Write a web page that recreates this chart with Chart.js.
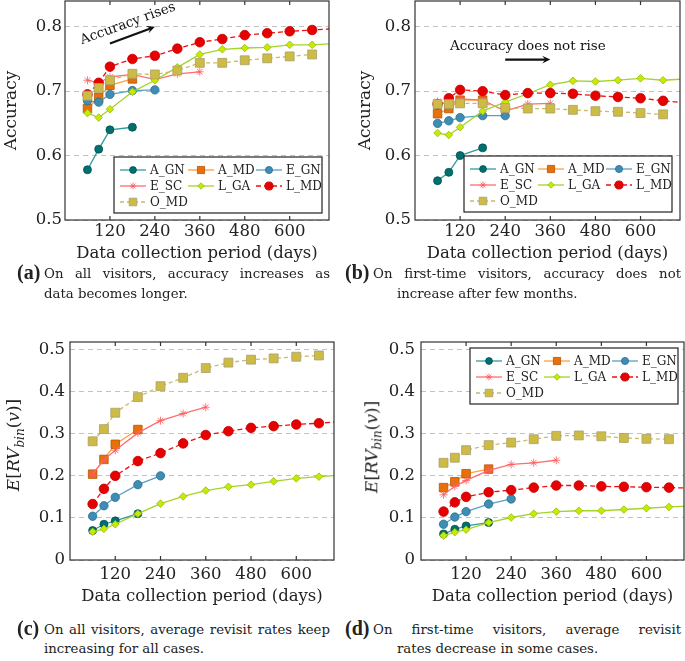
<!DOCTYPE html>
<html>
<head>
<meta charset="utf-8">
<script src="https://cdn.jsdelivr.net/npm/chart.js@4.4.1/dist/chart.umd.min.js"></script>
<style>
  body { margin: 0; width: 685px; height: 661px; background: #fff; position: relative; overflow: hidden; font-family: 'DejaVu Serif', serif; color: #222; }
  .box { position: absolute; }
  .box canvas { display: block; }
  .lab { position: absolute; font-family: 'Liberation Serif', serif; font-weight: bold; font-size: 20px; }
  .l1 { position: absolute; font-size: 13.3px; text-align: justify; text-align-last: justify; white-space: nowrap; }
  .l2 { position: absolute; font-size: 13.3px; white-space: nowrap; }
  .ytitle { position: absolute; font-size: 17px; white-space: nowrap; transform: translate(-50%, -50%) rotate(-90deg); }
  .ytitle sub { font-size: 12px; }
</style>
</head>
<body>
<div class="box" style="left:0px;top:0px"><canvas id="ca" width="340" height="265"></canvas></div>
<div class="box" style="left:350px;top:0px"><canvas id="cb" width="340" height="265"></canvas></div>
<div class="box" style="left:0px;top:335px"><canvas id="cc" width="340" height="275"></canvas></div>
<div class="box" style="left:350px;top:335px"><canvas id="cd" width="335" height="275"></canvas></div>

<div class="ytitle" style="left:15px;top:445px"><i>E</i>[<i>RV</i><sub><i>bin</i></sub>(<i>v</i>)]</div>
<div class="ytitle" style="left:373px;top:447px"><i>E</i>[<i>RV</i><sub><i>bin</i></sub>(<i>v</i>)]</div>

<div class="lab" style="left:17px;top:261px">(a)</div>
<div class="l1" style="left:44px;top:266px;width:286px">On all visitors, accuracy increases as</div>
<div class="l2" style="left:44px;top:286px">data becomes longer.</div>

<div class="lab" style="left:345px;top:261px">(b)</div>
<div class="l1" style="left:373px;top:266px;width:308px">On first-time visitors, accuracy does not</div>
<div class="l2" style="left:397px;top:286px">increase after few months.</div>

<div class="lab" style="left:17px;top:617px">(c)</div>
<div class="l1" style="left:44px;top:622px;width:286px">On all visitors, average revisit rates keep</div>
<div class="l2" style="left:44px;top:641px">increasing for all cases.</div>

<div class="lab" style="left:345px;top:617px">(d)</div>
<div class="l1" style="left:373px;top:622px;width:308px">On first-time visitors, average revisit</div>
<div class="l2" style="left:397px;top:641px">rates decrease in some cases.</div>

<script>
const days = [60, 90, 120, 180, 240, 300, 360, 420, 480, 540, 600, 660, 720];
const dayTicks = [120, 240, 360, 480, 600];
const accTicks = [0.5, 0.6, 0.7, 0.8];
const rvTicks = [0, 0.1, 0.2, 0.3, 0.4, 0.5];
const seriesNames = ['A_GN', 'A_MD', 'E_GN', 'E_SC', 'L_GA', 'L_MD', 'O_MD'];

// (a) accuracy, all visitors
const accAll_A_GN = [0.578, 0.610, 0.640, 0.644];
const accAll_A_MD = [0.673, 0.690, 0.709, 0.719];
const accAll_E_GN = [0.685, 0.683, 0.695, 0.701, 0.702];
const accAll_E_SC = [0.717, 0.713, 0.722, 0.726, 0.718, 0.727, 0.730];
const accAll_L_GA = [0.666, 0.659, 0.672, 0.699, 0.717, 0.737, 0.757, 0.765, 0.767, 0.768, 0.772, 0.772, 0.774];
const accAll_L_MD = [0.695, 0.713, 0.738, 0.750, 0.755, 0.766, 0.776, 0.781, 0.787, 0.790, 0.793, 0.795, 0.797];
const accAll_O_MD = [0.693, 0.705, 0.717, 0.727, 0.726, 0.732, 0.744, 0.744, 0.748, 0.751, 0.754, 0.757];

// (b) accuracy, first-time visitors
const accNew_A_GN = [0.561, 0.574, 0.600, 0.612];
const accNew_A_MD = [0.665, 0.673, 0.686, 0.686];
const accNew_E_GN = [0.650, 0.654, 0.659, 0.662, 0.662];
const accNew_E_SC = [0.684, 0.679, 0.688, 0.686, 0.669, 0.680, 0.681];
const accNew_L_GA = [0.635, 0.632, 0.644, 0.669, 0.683, 0.696, 0.710, 0.716, 0.715, 0.717, 0.720, 0.717, 0.719];
const accNew_L_MD = [0.680, 0.689, 0.702, 0.700, 0.694, 0.697, 0.697, 0.696, 0.693, 0.691, 0.689, 0.685, 0.682];
const accNew_O_MD = [0.680, 0.680, 0.681, 0.681, 0.674, 0.673, 0.673, 0.671, 0.669, 0.668, 0.666, 0.664];

// (c) average revisit rate, all visitors
const rvAll_A_GN = [0.070, 0.085, 0.093, 0.110];
const rvAll_A_MD = [0.204, 0.239, 0.275, 0.310];
const rvAll_E_GN = [0.104, 0.129, 0.149, 0.179, 0.200];
const rvAll_E_SC = [0.204, 0.238, 0.261, 0.302, 0.331, 0.348, 0.363];
const rvAll_L_GA = [0.067, 0.074, 0.085, 0.110, 0.134, 0.151, 0.165, 0.174, 0.179, 0.187, 0.194, 0.198, 0.202];
const rvAll_L_MD = [0.133, 0.169, 0.200, 0.235, 0.254, 0.277, 0.297, 0.306, 0.314, 0.318, 0.322, 0.325, 0.329];
const rvAll_O_MD = [0.282, 0.311, 0.350, 0.387, 0.413, 0.433, 0.456, 0.469, 0.476, 0.479, 0.483, 0.486];

// (d) average revisit rate, first-time visitors
const rvNew_A_GN = [0.062, 0.073, 0.081, 0.089];
const rvNew_A_MD = [0.172, 0.186, 0.205, 0.216];
const rvNew_E_GN = [0.085, 0.102, 0.115, 0.133, 0.145];
const rvNew_E_SC = [0.155, 0.175, 0.189, 0.213, 0.227, 0.231, 0.237];
const rvNew_L_GA = [0.058, 0.066, 0.072, 0.089, 0.101, 0.110, 0.115, 0.117, 0.117, 0.120, 0.123, 0.126, 0.128];
const rvNew_L_MD = [0.115, 0.137, 0.150, 0.161, 0.166, 0.172, 0.177, 0.177, 0.175, 0.174, 0.173, 0.172, 0.171];
const rvNew_O_MD = [0.231, 0.243, 0.261, 0.273, 0.279, 0.287, 0.295, 0.296, 0.294, 0.290, 0.288, 0.287];

const FONT = "'DejaVu Serif', serif"
const INK = '#222'

const styles = {
  A_GN: {line: '#2f9c9c', fill: '#00706f', edge: '#005252', shape: 'circle', r: 4, dash: []},
  A_MD: {line: '#ffa040', fill: '#e8700a', edge: '#b85400', shape: 'rect', r: 6, dash: []},
  E_GN: {line: '#5a9fc0', fill: '#3f8db3', edge: '#2a6f90', shape: 'circle', r: 4.2, dash: []},
  E_SC: {line: '#ff6e6e', fill: '#ff6e6e', edge: '#ff5a5a', shape: 'star', r: 4, dash: []},
  L_GA: {line: '#a4d42a', fill: '#cbe800', edge: '#8fbf10', shape: 'rectRot', r: 3.8, dash: []},
  L_MD: {line: '#ee1111', fill: '#e60000', edge: '#c00000', shape: 'circle', r: 4.8, dash: [5, 3]},
  O_MD: {line: '#c8bb6a', fill: '#cdbb45', edge: '#a89f6a', shape: 'rect', r: 6.3, dash: [4, 3]}
}

function makeSets(values){
    return seriesNames.map((name, i) => {
        const st = styles[name]
        return {
            label: name,
            data: values[i].map((v, k) => ({x: days[k], y: v})),
            borderColor: st.line,
            borderWidth: 1.3,
            borderDash: st.dash,
            pointStyle: st.shape,
            pointRadius: st.r,
            pointBackgroundColor: st.fill,
            pointBorderColor: st.edge,
            pointBorderWidth: 0.8,
            order: seriesNames.length - i
        }
    })
}

// frame round the plot area, with small tick marks on top and bottom
const frame = {
    id: 'frame',
    afterDraw(chart){
        const {ctx, chartArea: a, scales} = chart
        ctx.save()
        ctx.strokeStyle = '#333'
        ctx.lineWidth = 1.2
        ctx.strokeRect(a.left, a.top, a.right - a.left, a.bottom - a.top)
        ctx.beginPath()
        dayTicks.forEach(d => {
            const px = scales.x.getPixelForValue(d)
            ctx.moveTo(px, a.top); ctx.lineTo(px, a.top + 4)
            ctx.moveTo(px, a.bottom); ctx.lineTo(px, a.bottom - 4)
        })
        ctx.stroke()
        ctx.restore()
    }
}

// legend in a box inside the plot, 3 columns
const boxLegend = {
    id: 'boxLegend',
    afterDatasetsDraw(chart, args, opts){
        if (!opts.corner) return
        const {ctx, chartArea: a} = chart
        const w = 208, h = 56
        const x0 = a.right - opts.inset - w
        const y0 = opts.corner === 'br' ? a.bottom - opts.inset - h : a.top + opts.inset
        ctx.save()
        ctx.fillStyle = '#fff'
        ctx.strokeStyle = '#222'
        ctx.lineWidth = 1.2
        ctx.fillRect(x0, y0, w, h)
        ctx.strokeRect(x0, y0, w, h)
        chart.data.datasets.forEach((ds, i) => {
            const col = i % 3, row = Math.floor(i / 3)
            const lx = x0 + 6 + col * 68, ly = y0 + 13 + row * 16
            ctx.beginPath()
            ctx.setLineDash(ds.borderDash)
            ctx.strokeStyle = ds.borderColor
            ctx.lineWidth = ds.borderWidth
            ctx.moveTo(lx, ly); ctx.lineTo(lx + 26, ly)
            ctx.stroke()
            ctx.setLineDash([])
            ctx.fillStyle = ds.pointBackgroundColor
            ctx.strokeStyle = ds.pointBorderColor
            ctx.lineWidth = ds.pointBorderWidth
            Chart.helpers.drawPoint(ctx, {pointStyle: ds.pointStyle, radius: ds.pointRadius * 0.85, borderWidth: ds.pointBorderWidth, rotation: 0}, lx + 13, ly)
            ctx.fillStyle = INK
            ctx.font = '12px ' + FONT
            ctx.textAlign = 'left'
            ctx.textBaseline = 'middle'
            ctx.fillText(ds.label, lx + 30, ly + 1)
        })
        ctx.restore()
    }
}

// text + arrow note, placed in data units
const note = {
    id: 'note',
    afterDatasetsDraw(chart, args, opts){
        if (!opts.text) return
        const {ctx, scales: {x, y}} = chart
        ctx.save()
        ctx.fillStyle = '#111'
        ctx.font = '13.5px ' + FONT
        ctx.textAlign = 'center'
        ctx.textBaseline = 'middle'
        ctx.translate(x.getPixelForValue(opts.at[0]), y.getPixelForValue(opts.at[1]))
        ctx.rotate(-opts.angle * Math.PI / 180)
        ctx.fillText(opts.text, 0, 0)
        ctx.restore()

        const x1 = x.getPixelForValue(opts.from[0]), y1 = y.getPixelForValue(opts.from[1])
        const x2 = x.getPixelForValue(opts.to[0]), y2 = y.getPixelForValue(opts.to[1])
        const ang = Math.atan2(y2 - y1, x2 - x1)
        ctx.save()
        ctx.strokeStyle = '#111'
        ctx.fillStyle = '#111'
        ctx.lineWidth = 2.2
        ctx.beginPath()
        ctx.moveTo(x1, y1)
        ctx.lineTo(x2 - 4 * Math.cos(ang), y2 - 4 * Math.sin(ang))
        ctx.stroke()
        ctx.beginPath()
        ctx.moveTo(x2, y2)
        ctx.lineTo(x2 - 9 * Math.cos(ang - 0.45), y2 - 9 * Math.sin(ang - 0.45))
        ctx.lineTo(x2 - 5 * Math.cos(ang), y2 - 5 * Math.sin(ang))
        ctx.lineTo(x2 - 9 * Math.cos(ang + 0.45), y2 - 9 * Math.sin(ang + 0.45))
        ctx.closePath()
        ctx.fill()
        ctx.restore()
    }
}

function makeChart(id, values, cfg){
    const ctx = document.getElementById(id).getContext('2d')
    new Chart(ctx, {
        type: 'line',
        data: {datasets: makeSets(values)},
        options: {
            responsive: false,
            animation: false,
            layout: {padding: cfg.pad, autoPadding: false},
            plugins: {
                legend: {display: false},
                tooltip: {enabled: false},
                boxLegend: cfg.legend || {},
                note: cfg.note || {}
            },
            scales: {
                x: {
                    type: 'linear',
                    min: 0,
                    max: cfg.xMax,
                    afterBuildTicks: s => { s.ticks = dayTicks.map(v => ({value: v})) },
                    afterFit: s => { s.height = cfg.xh; s.paddingLeft = 0; s.paddingRight = 0 },
                    grid: {display: false, drawTicks: false},
                    border: {display: false},
                    ticks: {color: INK, font: {family: FONT, size: 16.5}, padding: cfg.xPad, maxRotation: 0},
                    title: {display: true, text: 'Data collection period (days)', color: INK,
                            font: {family: FONT, size: 16.5}, padding: {top: 0, bottom: cfg.xTitlePad}}
                },
                y: {
                    min: cfg.yMin,
                    max: cfg.yMax,
                    afterBuildTicks: s => { s.ticks = cfg.yTicks.map(v => ({value: v})) },
                    afterFit: s => { s.width = cfg.yw; s.paddingTop = 0; s.paddingBottom = 0 },
                    grid: {color: '#c2c2c2', lineWidth: 1, drawTicks: false},
                    border: {display: false, dash: [5, 4]},
                    ticks: {color: INK, font: {family: FONT, size: 16.5}, padding: cfg.yPad},
                    title: cfg.yTitle
                        ? {display: true, text: cfg.yTitle, color: INK, font: {family: FONT, size: 17}, padding: {top: cfg.yTitlePad, bottom: 0}}
                        : {display: false}
                }
            }
        },
        plugins: [boxLegend, note, frame]
    })
}

makeChart('ca',
    [accAll_A_GN, accAll_A_MD, accAll_E_GN, accAll_E_SC, accAll_L_GA, accAll_L_MD, accAll_O_MD],
    {pad: {top: 1, right: 11, left: 0, bottom: 0}, xMax: 705, xh: 45, xPad: 2, xTitlePad: 1,
     yMin: 0.5, yMax: 0.84, yTicks: accTicks, yw: 65, yPad: 3, yTitle: 'Accuracy', yTitlePad: 1,
     legend: {corner: 'br', inset: 7},
     note: {text: 'Accuracy rises', at: [168, 0.8047], angle: 20, from: [120, 0.774], to: [240, 0.8]}})

makeChart('cb',
    [accNew_A_GN, accNew_A_MD, accNew_E_GN, accNew_E_SC, accNew_L_GA, accNew_L_MD, accNew_O_MD],
    {pad: {top: 1, right: 10, left: 0, bottom: 0}, xMax: 705, xh: 45, xPad: 2, xTitlePad: 1,
     yMin: 0.5, yMax: 0.84, yTicks: accTicks, yw: 65, yPad: 4, yTitle: 'Accuracy', yTitlePad: 5,
     legend: {corner: 'br', inset: 8},
     note: {text: 'Accuracy does not rise', at: [300, 0.770], angle: 0, from: [240, 0.749], to: [360, 0.749]}})

makeChart('cc',
    [rvAll_A_GN, rvAll_A_MD, rvAll_E_GN, rvAll_E_SC, rvAll_L_GA, rvAll_L_MD, rvAll_O_MD],
    {pad: {top: 7, right: 6, left: 0, bottom: 0}, xMax: 700, xh: 50, xPad: 5, xTitlePad: 3,
     yMin: 0, yMax: 0.518, yTicks: rvTicks, yw: 70, yPad: 5})

makeChart('cd',
    [rvNew_A_GN, rvNew_A_MD, rvNew_E_GN, rvNew_E_SC, rvNew_L_GA, rvNew_L_MD, rvNew_O_MD],
    {pad: {top: 7, right: 1, left: 0, bottom: 0}, xMax: 700, xh: 50, xPad: 5, xTitlePad: 3,
     yMin: 0, yMax: 0.518, yTicks: rvTicks, yw: 71, yPad: 6,
     legend: {corner: 'tr', inset: 6}})
</script>
</body>
</html>
